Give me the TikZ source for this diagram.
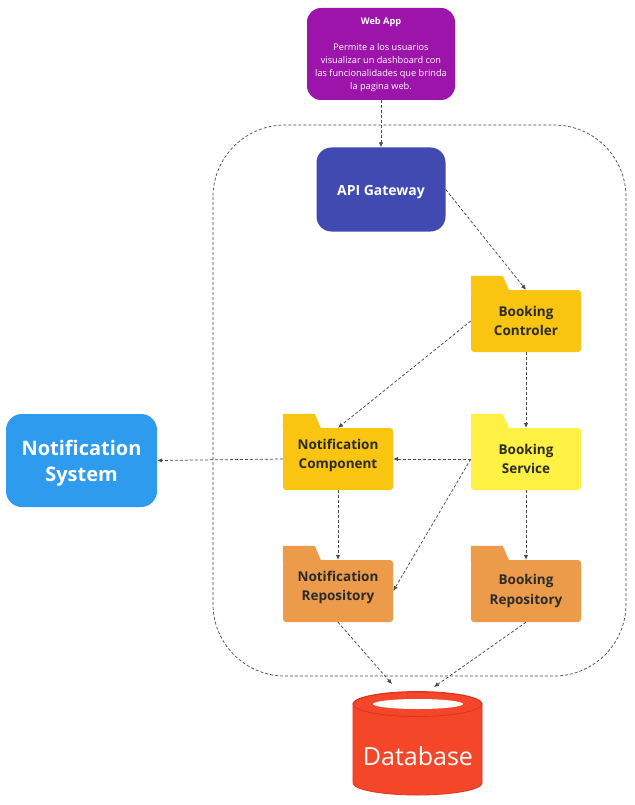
\documentclass[tikz,border=0pt]{standalone}
\usepackage{fontspec}
\setmainfont{Open Sans}
\usetikzlibrary{arrows.meta}
\definecolor{webpurple}{HTML}{9C14AA}
\definecolor{apiblue}{HTML}{404AB1}
\definecolor{ctrlyellow}{HTML}{F9C510}
\definecolor{servyellow}{HTML}{FFF143}
\definecolor{repoorange}{HTML}{EC9B4B}
\definecolor{notifblue}{HTML}{2E9BEF}
\definecolor{dbred}{HTML}{F4472A}
\definecolor{dbedge}{HTML}{E2301E}
\definecolor{txtdark}{HTML}{2B2B2B}
\definecolor{arrowgray}{HTML}{4A4A4A}
\tikzset{
  folder/.style={rectangle, rounded corners=3pt, minimum width=110pt, minimum height=62pt,
    inner sep=0pt},
  foldertext/.style={inner sep=0pt, align=center, text=txtdark,
    font=\fontsize{13.5}{19.5}\selectfont\bfseries},
  conn/.style={draw=arrowgray, dash pattern=on 3pt off 2pt, line width=0.75pt,
    -{Latex[length=5pt,width=4.5pt]}},
  boundary/.style={draw=arrowgray, dash pattern=on 3pt off 2pt, line width=0.7pt}
}
% name, x, y, colour, text, vertical text offset (pt, positive = up)
\newcommand\folderbox[6]{%
  \node[folder, fill=#4] (#1) at (#2,#3) {};
  \fill[#4] ([yshift=-2pt]#1.north west) -- ++(0,-16) -- ++(32,0) -- ++(6,14) -- ++(0,2) -- cycle;
  \node[foldertext] (#1-text) at ([yshift=#6]#1.center) {#5};
}
\begin{document}
\begin{tikzpicture}[x=1pt,y=-1pt]
\useasboundingbox (0,0) rectangle (634,805);
\fill[white] (0,0) rectangle (634,805);

% boundary
\draw[boundary, rounded corners=72pt] (213,125) rectangle (626,676);

% nodes
\node[fill=webpurple, rounded corners=14pt, minimum width=148pt, minimum height=92pt,
  inner sep=0pt] (web) at (381,54) {};
\node[inner sep=0pt, align=center, text=white, font=\fontsize{9.2}{13}\selectfont]
  (web-text) at ([yshift=-1pt]web.center) {{\bfseries Web App}\\[13pt]Permite a los usuarios\\visualizar un dashboard con\\las funcionalidades que brinda\\la pagina web.};

\node[fill=apiblue, rounded corners=15pt, minimum width=129pt, minimum height=84pt,
  inner sep=0pt] (api) at (381,189.5) {};
\node[inner sep=0pt, text=white, font=\fontsize{14}{17}\selectfont\bfseries]
  (api-text) at ([yshift=-2.5pt]api.center) {API Gateway};

\folderbox{ctrl}{526}{321}{ctrlyellow}{Booking\\Controler}{0pt}
\folderbox{comp}{338}{459}{ctrlyellow}{Notification\\Component}{3.5pt}
\folderbox{serv}{526}{459}{servyellow}{Booking\\Service}{0pt}
\folderbox{nrepo}{338}{591}{repoorange}{Notification\\Repository}{3.5pt}
\folderbox{brepo}{526}{591}{repoorange}{Booking\\Repository}{0pt}

\node[fill=notifblue, rounded corners=16pt, minimum width=151pt, minimum height=93pt,
  inner sep=0pt] (nsys) at (81.5,460.5) {};
\node[inner sep=0pt, align=center, text=white, font=\fontsize{20}{26}\selectfont\bfseries]
  (nsys-text) at ([yshift=-3pt]nsys.center) {Notification\\System};

% database cylinder
\fill[dbred, draw=dbedge, line width=0.8pt] (353,704) -- (353,783)
  arc[start angle=180, end angle=360, x radius=64.5pt, y radius=12pt]
  -- (482,704)
  arc[start angle=0, end angle=180, x radius=64.5pt, y radius=12pt] -- cycle;
\draw[dbedge, line width=0.8pt] (417.5,704) ellipse [x radius=64.5pt, y radius=12.5pt];
\fill[white] (418,704) ellipse [x radius=45pt, y radius=5pt];
\node[text=white, font=\fontsize{25}{30}\selectfont, inner sep=0pt] (db) at (418,756) {Database};
\coordinate (dbl) at (392,684);
\coordinate (dbr) at (434,687);

% connectors
\draw[conn] (web.south) -- (api.north);
\draw[conn] (api.east) -- (ctrl.north);
\draw[conn] (ctrl.west) -- (comp.north);
\draw[conn] (ctrl.south) -- (serv.north);
\draw[conn] (serv.west) -- (comp.east);
\draw[conn] (serv.west) -- (nrepo.east);
\draw[conn] (comp.west) -- (nsys.east);
\draw[conn] (comp.south) -- (nrepo.north);
\draw[conn] (serv.south) -- (brepo.north);
\draw[conn] (nrepo.south) -- (dbl);
\draw[conn] (brepo.south) -- (dbr);
\end{tikzpicture}
\end{document}
